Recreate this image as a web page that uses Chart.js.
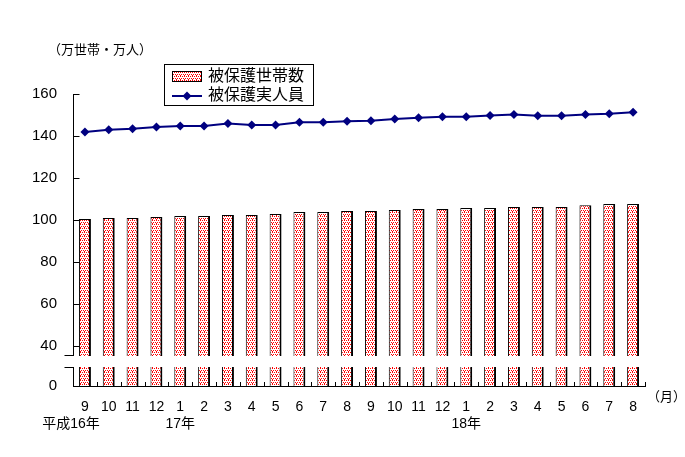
<!DOCTYPE html>
<html>
<head>
<meta charset="utf-8">
<script src="https://cdn.jsdelivr.net/npm/chart.js@4.4.0/dist/chart.umd.min.js"></script>
<style>
  html, body { margin: 0; padding: 0; background: #fff; }
</style>
</head>
<body>
<canvas id="chart" width="685" height="457"></canvas>
<script>
// Data (万世帯 / 万人)
const months = ["9", "10", "11", "12", "1", "2", "3", "4", "5", "6", "7", "8",
  "9", "10", "11", "12", "1", "2", "3", "4", "5", "6", "7", "8"];
const years = ["平成16年", "", "", "", "17年", "", "", "", "", "", "", "",
  "", "", "", "", "18年", "", "", "", "", "", "", ""];
const households = [100.5, 101.0, 101.0, 101.4, 101.9, 101.9, 102.4, 102.4, 102.9, 103.8, 103.8, 104.3,
  104.3, 104.8, 105.2, 105.2, 105.7, 105.7, 106.2, 106.2, 106.2, 107.1, 107.6, 107.6];
const persons = [141.9, 143.0, 143.5, 144.3, 144.8, 144.8, 145.9, 145.2, 145.2, 146.5, 146.5, 147.0,
  147.3, 148.1, 148.7, 149.2, 149.2, 149.8, 150.2, 149.7, 149.7, 150.2, 150.6, 151.3];
const yTicks = [40, 60, 80, 100, 120, 140, 160];
const yBottom = 21;          // axis bottom, shown as "0" below the break
const breakRange = [30, 35.7];

const NAVY = "#000080";
const FONT = "'Liberation Sans', 'Noto Sans CJK JP', sans-serif";

const canvas = document.getElementById("chart");
const ctx = canvas.getContext("2d");

// Red dotted fill like the original bars
function dotPattern() {
  const c = document.createElement("canvas");
  c.width = 4;
  c.height = 4;
  const g = c.getContext("2d");
  g.fillStyle = "#fff";
  g.fillRect(0, 0, 4, 4);
  g.fillStyle = "#ff0000";
  [[0, 0], [2, 0], [1, 2], [3, 2], [0, 3]].forEach(([px, py]) => g.fillRect(px, py, 1, 1));
  return ctx.createPattern(c, "repeat");
}
const barFill = dotPattern();

function line(g, x1, y1, x2, y2) {
  g.beginPath();
  g.moveTo(x1, y1);
  g.lineTo(x2, y2);
  g.stroke();
}

// Inward tick marks + the axis break
const breakPlugin = {
  id: "axisBreak",
  afterDatasetsDraw(chart) {
    const g = chart.ctx;
    const a = chart.chartArea;
    const { x, y } = chart.scales;
    g.save();
    g.strokeStyle = "#000";
    g.lineWidth = 1;
    const ax = Math.round(a.left) + 0.5;

    yTicks.forEach((v) => {
      const py = Math.round(y.getPixelForValue(v)) + 0.5;
      line(g, ax, py, ax + 6, py);
    });
    for (let i = 1; i <= months.length; i++) {
      const px = Math.round(x.getPixelForValue(i - 0.5)) + 0.5;
      line(g, px, a.bottom, px, a.bottom - 4);
    }

    const top = Math.round(y.getPixelForValue(breakRange[1]));
    const bot = Math.round(y.getPixelForValue(breakRange[0]));
    g.fillStyle = "#fff";
    g.fillRect(a.left - 2, top + 1, a.right - a.left + 4, bot - top - 1);
    line(g, ax - 9, top + 0.5, ax, top + 0.5);
    line(g, ax - 9, bot + 0.5, ax, bot + 0.5);
    g.restore();
  },
  afterDraw(chart) {
    const g = chart.ctx;
    const a = chart.chartArea;
    const ds = chart.data.datasets;
    g.save();

    // unit label and month marker
    g.fillStyle = "#000";
    g.font = "13px " + FONT;
    g.textBaseline = "middle";
    g.textAlign = "left";
    g.fillText("（万世帯・万人）", 48, 50);
    g.fillText("（月）", a.right + 2, 397);

    // legend box
    g.fillStyle = "#fff";
    g.fillRect(164, 64, 149, 41);
    g.strokeStyle = "#000";
    g.lineWidth = 1;
    g.strokeRect(164.5, 64.5, 149, 41);

    g.fillStyle = barFill;
    g.fillRect(172, 71, 30, 10);
    g.strokeRect(172.5, 71.5, 29, 10);

    g.strokeStyle = NAVY;
    g.lineWidth = 2;
    line(g, 172, 96, 202, 96);
    g.fillStyle = NAVY;
    g.beginPath();
    g.moveTo(187, 91.5);
    g.lineTo(191.5, 96);
    g.lineTo(187, 100.5);
    g.lineTo(182.5, 96);
    g.closePath();
    g.fill();

    g.fillStyle = "#000";
    g.font = "16px " + FONT;
    g.fillText(ds[0].label, 208, 77);
    g.fillText(ds[1].label, 208, 96);
    g.restore();
  }
};

new Chart(ctx, {
  data: {
    labels: months.map((m, i) => [m, years[i]]),
    datasets: [
      {
        type: "bar",
        label: "被保護世帯数",
        data: households,
        backgroundColor: barFill,
        borderColor: "#000",
        borderWidth: { top: 1, left: 1, right: 2, bottom: 0 },
        barPercentage: 0.5,
        categoryPercentage: 1.0,
        order: 2,
      },
      {
        type: "line",
        label: "被保護実人員",
        data: persons,
        borderColor: NAVY,
        backgroundColor: NAVY,
        borderWidth: 2,
        pointStyle: "rectRot",
        pointRadius: 4.5,
        pointBorderWidth: 0,
        tension: 0,
        order: 1,
      },
    ],
  },
  options: {
    responsive: false,
    animation: false,
    layout: { padding: { top: 94, right: 40, bottom: 0, left: 0 } },
    scales: {
      x: {
        offset: true,
        grid: { display: false, drawTicks: false },
        border: { color: "#000", width: 1 },
        ticks: {
          color: "#000",
          padding: 13,
          maxRotation: 0,
          autoSkip: false,
          font: { family: FONT, size: 14, lineHeight: 1.22 },
          // the first year label sits a little left of its month in the original
          callback: (v, i) => (i === 0 ? [months[i], years[i] + "　　"] : [months[i], years[i]]),
        },
        afterFit(scale) {
          scale.height = 71;
        },
      },
      y: {
        min: yBottom,
        max: 160,
        grid: { display: false, drawTicks: false },
        border: { color: "#000", width: 1 },
        ticks: {
          color: "#000",
          padding: 16,
          font: { family: FONT, size: 15 },
          callback: (v) => (v === yBottom ? "0" : v),
        },
        afterBuildTicks(scale) {
          scale.ticks = [yBottom, ...yTicks].map((v) => ({ value: v }));
        },
        afterFit(scale) {
          scale.width = 73;
        },
      },
    },
    plugins: {
      legend: { display: false },
      tooltip: { enabled: false },
    },
  },
  plugins: [breakPlugin],
});
</script>
</body>
</html>
